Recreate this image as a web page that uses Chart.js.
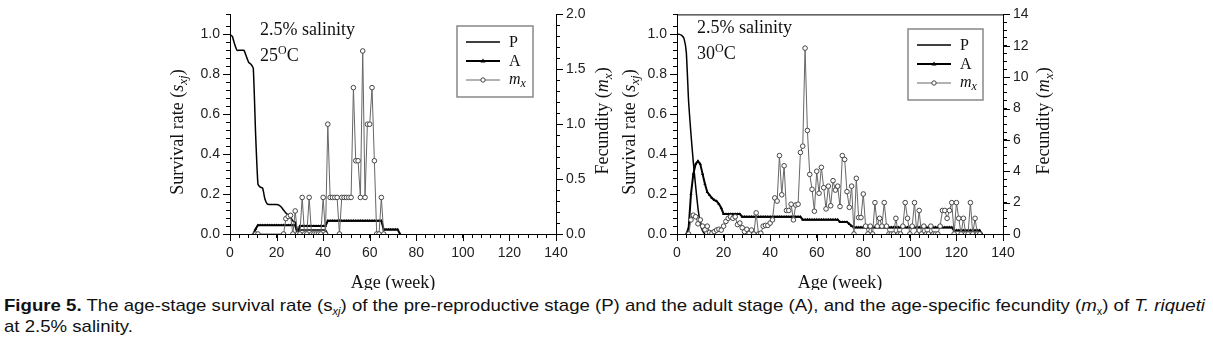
<!DOCTYPE html>
<html><head><meta charset="utf-8">
<script src="https://cdn.jsdelivr.net/npm/chart.js@4.4.0/dist/chart.umd.min.js"></script>
<style>
html,body{margin:0;padding:0;background:#fff;width:1213px;height:347px;overflow:hidden;}
.wrap{position:absolute;top:0;}
#w1{left:150px;width:470px;height:290px;}
#w2{left:600px;width:460px;height:290px;}
#cap{position:absolute;left:4px;top:295px;font-family:"Liberation Sans",Arial,sans-serif;font-size:17px;line-height:21px;color:#111;white-space:nowrap;transform-origin:0 0;}
#cap sub{font-size:10px;vertical-align:-4px;line-height:0;}
</style></head><body>
<div class="wrap" id="w1"><canvas id="c1" width="470" height="290"></canvas></div>
<div class="wrap" id="w2"><canvas id="c2" width="460" height="290"></canvas></div>
<div id="cap"><span id="l1"><b>Figure 5.</b> The age-stage survival rate (s<sub><i>xj</i></sub>) of the pre-reproductive stage (P) and the adult stage (A), and the age-specific fecundity (<i>m</i><sub>x</sub>) of <i>T. riqueti</i></span><br>at 2.5% salinity.</div>
<script>
// ---------- DATA (age in weeks; series start week + weekly values) ----------
// Panel 1: 2.5% salinity, 25 °C
const p25Start = 0;
const p25 = [1.0, 0.99, 0.95, 0.92, 0.92, 0.92, 0.92, 0.89, 0.86, 0.85,
             0.83, 0.5, 0.25, 0.235, 0.23, 0.175, 0.15, 0.148, 0.148, 0.148,
             0.148, 0.145, 0.135, 0.12, 0.105, 0.095, 0.085, 0.065, 0.06, 0.02,
             0.02, 0.02, 0.02, 0.02, 0.02, 0.02, 0.02, 0.02, 0.02, 0.02,
             0.02, 0.02, 0];
const a25Start = 10;
const a25 = [0, 0.025, 0.044, 0.044, 0.044, 0.044, 0.044, 0.044, 0.044, 0.044,
             0.044, 0.044, 0.044, 0.044, 0.044, 0.044, 0.044, 0.044, 0.044, 0,
             0.04, 0.04, 0.04, 0.04, 0.04, 0.04, 0.04, 0.04, 0.04, 0.04,
             0.04, 0.04, 0.066, 0.066, 0.066, 0.066, 0.066, 0.066, 0.066, 0.066,
             0.066, 0.066, 0.066, 0.066, 0.066, 0.066, 0.066, 0.066, 0.066, 0.066,
             0.066, 0.066, 0.066, 0.066, 0.066, 0.066, 0.022, 0.022, 0.022, 0.022,
             0.022, 0.022, 0.022, 0];
const m25Start = 11;
const m25 = [0, 0, null, null, null, null, null, null, null, null,
             null, null, 0, 0.14, 0.16, 0.17, 0, 0.21, 0, 0,
             0.333, 0, 0, 0.333, 0, 0, 0, 0, 0, 0.333,
             0, 1.0, 0.333, 0.333, 0.333, 0.333, 0, 0.333, 0.333, 0.333,
             0.333, 0.333, 1.333, 0.667, 0.667, 0.333, 1.667, 0.333, 1.0, 1.0,
             1.333, 0.667, 0, 0, 0.333, 0];

// Panel 2: 2.5% salinity, 30 °C
const p30Start = 0;
const p30 = [1.0, 1.0, 0.995, 0.98, 0.91, 0.66, 0.5, 0.36, 0.24, 0.13, 0.055, 0.015, 0];
const a30Start = 4;
const a30 = [0, 0.03, 0.2, 0.3, 0.35, 0.365, 0.35, 0.3, 0.25, 0.21,
             0.195, 0.18, 0.17, 0.165, 0.15, 0.13, 0.1, 0.1, 0.1, 0.1,
             0.1, 0.1, 0.1, 0.1,
             0.086, 0.086, 0.086, 0.086, 0.086, 0.086, 0.086, 0.086, 0.086, 0.086,
             0.086, 0.086, 0.086, 0.086, 0.086, 0.086, 0.086, 0.086, 0.086, 0.086,
             0.086, 0.086, 0.086, 0.086, 0.086, 0.086,
             0.072, 0.072, 0.072, 0.072, 0.072, 0.072, 0.072, 0.072, 0.072, 0.072,
             0.072, 0.072, 0.072, 0.072, 0.072, 0.072,
             0.06, 0.06, 0.06, 0.06, 0.05, 0.04,
             0.033, 0.033, 0.033, 0.033, 0.033, 0.033, 0.033, 0.033, 0.033, 0.033,
             0.033, 0.033, 0.033, 0.033, 0.033, 0.033, 0.033, 0.033, 0.033, 0.033,
             0.033, 0.033, 0.033, 0.033, 0.033, 0.033, 0.033, 0.033, 0.033, 0.033,
             0.033, 0.033, 0.033, 0.033, 0.033, 0.033, 0.033, 0.033, 0.033, 0.033,
             0.033, 0.033, 0.033,
             0.018, 0.018, 0.018, 0.018, 0.018, 0.018, 0.018, 0.018, 0.018, 0.018,
             0.018, 0.018, 0];
const m30Start = 5;
const m30 = [0, 0.9, 1.2, 1.1, 0.65, 0.9, 0.5, 0.27, 0.5, 0.1,
             0.05, 0.15, 0.25, 0.3, 0.25, 0.5, 0.8, 1.0, 1.1, 1.0,
             1.1, 0.6, 0.7, 0.4, 0.15, 0.3, 0.05, 0.25, 0, 1.35,
             0, 0.05, 0.5, 0.55, 0.55, 0.7, 0.9, 2.3, 2.1, 5.0,
             2.5, 4.35, 1.5, 1.5, 1.9, 0.9, 1.85, 1.9, 5.2, 5.6,
             11.85, 6.6, 3.8, 2.85, 1.45, 4.0, 2.6, 4.25, 2.95, 1.6,
             3.05, 1.8, 3.4, 2.8, 3.05, 1.75, 5.0, 4.75, 2.7, 1.7,
             3.05, 0, 3.55, 1.05, 1.05, 2.55, 0.5, 0, 0.5, 0,
             2.0, 0.5, 1.0, 0.5, 2.0, 0.5, 0, 0, 0, 1.0,
             0, 0, 0.5, 2.0, 1.0, 0, 0.5, 2.0, 0, 1.5,
             0, 0.5, 0, 0, 0.5, 0, 0, 0, 0.5, 1.5,
             1.5, 1.0, 1.5, 2.0, 0, 2.0, 1.0, 0, 1.0, 0,
             0, 2.0, 0, 1.0, 0, 0];

const xTickLabels = [0, 20, 40, 60, 80, 100, 120, 140];
const yTickLabels = [0, 0.2, 0.4, 0.6, 0.8, 1.0];
const y2TickLabels25 = [0, 0.5, 1.0, 1.5, 2.0];
const y2TickLabels30 = [0, 2, 4, 6, 8, 10, 12, 14];
const seriesNames = ['P', 'A', 'm'];

// ---------- helpers ----------
function pts(start, vals) { return vals.map((v, i) => ({x: start + i, y: v})); }
function isIn(list, v) { return list.some(t => Math.abs(t - v) < 1e-6); }

const SERIF = '"Liberation Serif","Times New Roman",serif';
const SANS = '"Liberation Sans",Arial,sans-serif';

function rich(ctx, parts, x, y, rot, base) {
  ctx.save(); ctx.translate(x, y); ctx.rotate(rot);
  let w = 0;
  parts.forEach(p => { ctx.font = p.f; w += ctx.measureText(p.t).width; });
  let cx = -w / 2;
  ctx.textAlign = 'left'; ctx.textBaseline = 'alphabetic'; ctx.fillStyle = '#111';
  parts.forEach(p => { ctx.font = p.f; ctx.fillText(p.t, cx, base + (p.dy || 0)); cx += ctx.measureText(p.t).width; });
  ctx.restore();
}
function richLeft(ctx, parts, x, y) {
  let cx = x; ctx.textAlign = 'left'; ctx.textBaseline = 'alphabetic'; ctx.fillStyle = '#111';
  parts.forEach(p => { ctx.font = p.f; ctx.fillText(p.t, cx, y + (p.dy || 0)); cx += ctx.measureText(p.t).width; });
}

const deco = {
  id: 'deco',
  afterDraw(chart, args, o) {
    const ctx = chart.ctx, a = chart.chartArea;
    ctx.save();
    if (o.topLine) {
      ctx.strokeStyle = '#000'; ctx.lineWidth = 1;
      ctx.beginPath(); ctx.moveTo(a.left, a.top + 0.5); ctx.lineTo(a.right, a.top + 0.5); ctx.stroke();
    }
    // longer major tick marks
    ctx.strokeStyle = '#000'; ctx.lineWidth = 1;
    const xs = chart.scales.x, ys = chart.scales.y, y2s = chart.scales.y2;
    ctx.beginPath();
    xTickLabels.forEach(v => { const px = Math.round(xs.getPixelForValue(v)) + 0.5; ctx.moveTo(px, a.bottom); ctx.lineTo(px, a.bottom + 7); });
    yTickLabels.forEach(v => { const py = Math.round(ys.getPixelForValue(v)) + 0.5; ctx.moveTo(a.left, py); ctx.lineTo(a.left - 7, py); });
    o.y2major.forEach(v => { const py = Math.round(y2s.getPixelForValue(v)) + 0.5; ctx.moveTo(a.right, py); ctx.lineTo(a.right + 7, py); });
    ctx.stroke();
    // axis titles
    const f18 = '18px ' + SERIF, i18 = 'italic 18px ' + SERIF, i13 = 'italic 13px ' + SERIF;
    rich(ctx, [{t: 'Survival rate (', f: f18}, {t: 's', f: i18}, {t: 'xj', f: i13, dy: 4}, {t: ')', f: f18}],
         o.yTitleX, o.yTitleY, -Math.PI / 2, 6);
    rich(ctx, [{t: 'Fecundity (', f: f18}, {t: 'm', f: i18}, {t: 'x', f: i13, dy: 4}, {t: ')', f: f18}],
         a.right + o.y2TitleDx, o.y2TitleY, -Math.PI / 2, 6);
    rich(ctx, [{t: 'Age (week)', f: f18}], (a.left + a.right) / 2, o.xTitleY, 0, 6);
    // annotations
    richLeft(ctx, [{t: '2.5% salinity', f: f18}], a.left + o.annDx, o.ann1Y);
    richLeft(ctx, [{t: o.temp, f: f18}, {t: 'O', f: '12px ' + SERIF, dy: -7}, {t: 'C', f: f18}], a.left + o.annDx, o.ann2Y);
    // legend
    const L = o.legend;
    ctx.strokeStyle = '#888'; ctx.lineWidth = 1.5;
    ctx.strokeRect(L.x, L.y, L.w, L.h);
    const lx0 = L.x + 9, lx1 = L.x + 43, tx = L.x + 52;
    const rows = [L.y + 16, L.y + 35, L.y + 54];
    ctx.strokeStyle = '#000'; ctx.lineWidth = 1.5;
    ctx.beginPath(); ctx.moveTo(lx0, rows[0]); ctx.lineTo(lx1, rows[0]); ctx.stroke();
    ctx.lineWidth = 2;
    ctx.beginPath(); ctx.moveTo(lx0, rows[1]); ctx.lineTo(lx1, rows[1]); ctx.stroke();
    const mx = (lx0 + lx1) / 2;
    ctx.fillStyle = '#000';
    ctx.beginPath(); ctx.moveTo(mx, rows[1] - 2.5); ctx.lineTo(mx + 2.5, rows[1] + 1.5); ctx.lineTo(mx - 2.5, rows[1] + 1.5); ctx.closePath(); ctx.fill();
    ctx.strokeStyle = '#666'; ctx.lineWidth = 1;
    ctx.beginPath(); ctx.moveTo(lx0, rows[2]); ctx.lineTo(lx1, rows[2]); ctx.stroke();
    ctx.fillStyle = '#fff'; ctx.strokeStyle = '#444';
    ctx.beginPath(); ctx.arc(mx, rows[2], 2.2, 0, Math.PI * 2); ctx.fill(); ctx.stroke();
    const f16 = '16px ' + SERIF;
    richLeft(ctx, [{t: seriesNames[0], f: f16}], tx, rows[0] + 5);
    richLeft(ctx, [{t: seriesNames[1], f: f16}], tx, rows[1] + 5);
    richLeft(ctx, [{t: seriesNames[2], f: 'italic 16px ' + SERIF}, {t: 'x', f: 'italic 12px ' + SERIF, dy: 3}], tx, rows[2] + 4);
    ctx.restore();
  }
};

function makeChart(id, cfg) {
  const tickFont = {family: SANS, size: 14};
  return new Chart(document.getElementById(id), {
    type: 'line',
    data: {
      datasets: [
        {label: 'mx', data: pts(cfg.mStart, cfg.m), yAxisID: 'y2', borderColor: '#666', borderWidth: 1,
         pointStyle: 'circle', pointRadius: 2.3, pointBorderWidth: 1, pointBorderColor: '#444', pointBackgroundColor: '#fff',
         spanGaps: true, tension: 0},
        {label: 'A', data: pts(cfg.aStart, cfg.a), yAxisID: 'y', borderColor: '#000', borderWidth: 2,
         pointStyle: 'triangle', pointRadius: 1.8, pointBorderWidth: 0, pointBackgroundColor: '#000', tension: 0},
        {label: 'P', data: pts(cfg.pStart, cfg.p), yAxisID: 'y', borderColor: '#000', borderWidth: 1.5,
         pointRadius: 0, tension: 0.15}
      ]
    },
    options: {
      responsive: false, animation: false, devicePixelRatio: 1,
      layout: {padding: {top: cfg.top, left: 0, right: 0, bottom: 0}},
      plugins: {legend: {display: false}, tooltip: {enabled: false}, deco: cfg.deco},
      scales: {
        x: {type: 'linear', position: 'bottom', min: 0, max: 140,
            ticks: {stepSize: 4, autoSkip: false, maxRotation: 0, padding: 7, color: '#222', font: tickFont,
                    callback: v => isIn(xTickLabels, v) ? String(Math.round(v)) : ''},
            grid: {drawOnChartArea: false, drawTicks: true, tickLength: 4, color: '#000'},
            border: {display: true, color: '#000', width: 1},
            afterFit: s => { s.height = cfg.xh; }},
        y: {type: 'linear', position: 'left', min: 0, max: 1.1,
            ticks: {stepSize: 0.04, autoSkip: false, padding: 6, color: '#222', font: tickFont,
                    callback: v => isIn(yTickLabels, v) ? v.toFixed(1) : ''},
            grid: {drawOnChartArea: false, drawTicks: true, tickLength: 4, color: '#000'},
            border: {display: true, color: '#000', width: 1},
            afterFit: s => { s.width = cfg.yw; }},
        y2: {type: 'linear', position: 'right', min: 0, max: cfg.y2max,
            ticks: {stepSize: cfg.y2step, autoSkip: false, padding: 6, color: '#222', font: tickFont,
                    callback: v => isIn(cfg.y2labels, v) ? cfg.y2fmt(v) : ''},
            grid: {drawOnChartArea: false, drawTicks: true, tickLength: 4, color: '#000'},
            border: {display: true, color: '#000', width: 1},
            afterFit: s => { s.width = cfg.y2w; }}
      }
    },
    plugins: [deco]
  });
}

makeChart('c1', {
  pStart: p25Start, p: p25, aStart: a25Start, a: a25, mStart: m25Start, m: m25,
  top: 9, xh: 56, yw: 80, y2w: 64, y2max: 2.0, y2step: 0.1, y2labels: y2TickLabels25, y2fmt: v => v.toFixed(1),
  deco: {topLine: false, yTitleX: 27, yTitleY: 132, y2TitleDx: 46, y2TitleY: 121, xTitleY: 282,
         annDx: 30, ann1Y: 35, ann2Y: 61, temp: '25', y2major: y2TickLabels25,
         legend: {x: 307, y: 26, w: 76, h: 71}}
});
makeChart('c2', {
  pStart: p30Start, p: p30, aStart: a30Start, a: a30, mStart: m30Start, m: m30,
  top: 8, xh: 56, yw: 77, y2w: 57, y2max: 14, y2step: 0.5, y2labels: y2TickLabels30, y2fmt: v => String(Math.round(v)),
  deco: {topLine: true, yTitleX: 29, yTitleY: 132, y2TitleDx: 40, y2TitleY: 121, xTitleY: 282,
         annDx: 20, ann1Y: 33, ann2Y: 59, temp: '30', y2major: y2TickLabels30,
         legend: {x: 308, y: 29, w: 75, h: 71}}
});

// fit caption first line to reference width
(function () {
  const cap = document.getElementById('cap');
  const w = document.getElementById('l1').getBoundingClientRect().width;
  if (w > 0) cap.style.transform = 'scaleX(' + (1201 / w) + ')';
})();
</script>
</body></html>
